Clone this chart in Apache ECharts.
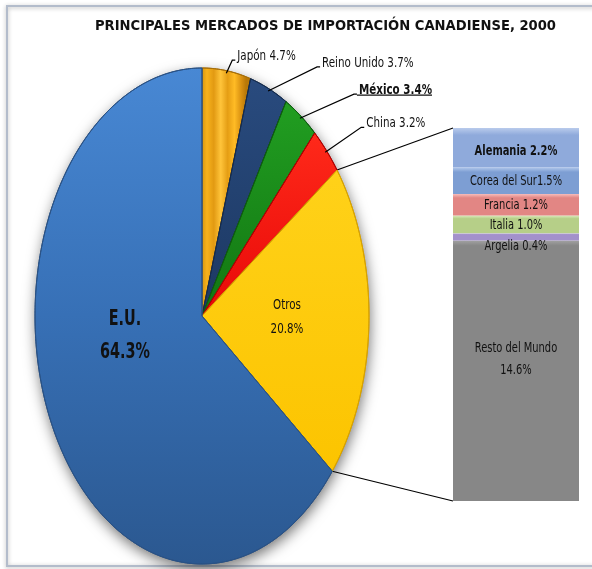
<!DOCTYPE html>
<html>
<head>
<meta charset="utf-8">
<script src="https://cdn.jsdelivr.net/npm/echarts@6.0.0/dist/echarts.min.js"></script>
<style>
  html, body { margin: 0; padding: 0; background: #fff; }
  #chart { width: 592px; height: 569px; }
</style>
</head>
<body>
<div id="chart"></div>
<script>
// pie: clockwise from 12 o'clock
const pieNames = ['Japón', 'Reino Unido', 'México', 'China', 'Otros', 'E.U.'];
const pieValues = [4.7, 3.7, 3.4, 3.2, 20.8, 64.3];
// bar of pie: bottom to top
const barNames = ['Resto del Mundo', 'Argelia', 'Italia', 'Francia', 'Corea del Sur', 'Alemania'];
const barValues = [14.6, 0.4, 1.0, 1.2, 1.5, 2.2];

const FONT = "'DejaVu Sans Condensed', 'Liberation Sans Narrow', sans-serif";
const CX = 202, CY = 316, RX = 167, RY = 248;   // stretched pie like the excel one
const GRID = { left: 453, top: 128, width: 126, height: 373 };
const TEXT_STRETCH = 1.3;   // the excel picture was stretched vertically, text too

var pieTotal = pieValues.reduce((a, b) => a + b, 0);
var barTotal = barValues.reduce((a, b) => a + b, 0);

// label layout (leader elbow offset from slice edge / inside label offset from centre)
var outsideOffsets = { 'Japón': [6, -13], 'Reino Unido': [49, -24], 'México': [54, -24], 'China': [36, -25] };
// [dx, dy, fontSize, lineHeight, weight, stretch]
var insideLabels = { 'Otros': [85, 1, 11.5, 18.5, 'normal', 1.3], 'E.U.': [-77, 20, 16, 24, 'bold', 1.35] };
var barLabelShift = { 'Resto del Mundo': -11, 'Argelia': 9, 'Alemania': 4 };

var sliceFills = [
  { type: 'linear', x: 200, y: 0, x2: 246, y2: 0, global: true, colorStops: [
    { offset: 0, color: '#c98a0c' }, { offset: 0.15, color: '#f7b21c' }, { offset: 0.3, color: '#e29a12' },
    { offset: 0.45, color: '#ffc43a' }, { offset: 0.6, color: '#e59e14' }, { offset: 0.75, color: '#ffbb25' },
    { offset: 0.9, color: '#d89010' }, { offset: 1, color: '#b87808' }] },
  { type: 'linear', x: 0, y: 60, x2: 0, y2: 320, global: true, colorStops: [
    { offset: 0, color: '#2a4c80' }, { offset: 1, color: '#1c3862' }] },
  { type: 'linear', x: 0, y: 90, x2: 0, y2: 320, global: true, colorStops: [
    { offset: 0, color: '#22a022' }, { offset: 1, color: '#127512' }] },
  { type: 'linear', x: 0, y: 130, x2: 0, y2: 320, global: true, colorStops: [
    { offset: 0, color: '#ff2a1a' }, { offset: 1, color: '#e80808' }] },
  { type: 'linear', x: 0, y: 160, x2: 0, y2: 470, global: true, colorStops: [
    { offset: 0, color: '#ffd21a' }, { offset: 1, color: '#fcc400' }] },
  { type: 'linear', x: 0, y: 67, x2: 0, y2: 563, global: true, colorStops: [
    { offset: 0, color: '#4888d4' }, { offset: 0.5, color: '#3770b6' }, { offset: 1, color: '#2b5890' }] }
];
var sliceEdges = ['#a86e06', '#142b4d', '#0e5e0e', '#b00000', '#d8a200', '#2a5285'];

var barColors = ['#878787', '#a391cb', '#b6cf88', '#e28684', '#7d9ed3', '#8faadb'];
var barLights = ['#a2a2a2', '#c9bde6', '#dbebbd', '#f6bcbb', '#b3c9ec', '#b9cbec'];

function ellipsePoint(a, k) {
  return [CX + RX * k * Math.sin(a), CY - RY * k * Math.cos(a)];
}

function ellipsePoly(a0, a1) {
  var pts = [];
  var n = Math.max(4, Math.ceil((a1 - a0) * 80));
  for (var s = 0; s <= n; s++) pts.push(ellipsePoint(a0 + (a1 - a0) * s / n, 1));
  return pts;
}

var measureCtx = document.createElement('canvas').getContext('2d');

function renderSlice(params, api) {
  var i = params.dataIndex;
  var start = 0;
  for (var j = 0; j < i; j++) start += pieValues[j];
  var v = api.value(0);
  var a0 = start / pieTotal * Math.PI * 2;
  var a1 = (start + v) / pieTotal * Math.PI * 2;
  var children = [];
  if (i === 0) {
    // drop shadow under the whole pie
    children.push({
      type: 'polygon', shape: { points: ellipsePoly(0, Math.PI * 2) },
      style: { fill: '#2b5890', shadowBlur: 14, shadowOffsetY: 5, shadowOffsetX: 1, shadowColor: 'rgba(0,0,0,0.55)' }
    });
  }
  children.push({
    type: 'polygon',
    shape: { points: [[CX, CY]].concat(ellipsePoly(a0, a1)) },
    style: { fill: sliceFills[i], stroke: sliceEdges[i], lineWidth: 1 }
  });

  var name = pieNames[i];
  if (outsideOffsets[name]) {
    var p = ellipsePoint((a0 + a1) / 2, 0.99);
    var off = outsideOffsets[name];
    var e = [p[0] + off[0], p[1] + off[1]];
    var bold = name === 'México';
    var font = (bold ? 'bold ' : '') + '11.5px ' + FONT;
    var text = name + ' ' + v.toFixed(1) + '%';
    children.push({
      type: 'polyline', shape: { points: [p, e, [e[0] + 3, e[1]]] },
      style: { stroke: '#000', lineWidth: 1.2, fill: 'none' }
    });
    children.push({
      type: 'text', x: e[0] + 5, y: e[1] - 4, scaleY: TEXT_STRETCH,
      style: { text: text, font: font, fill: '#111', align: 'left', verticalAlign: 'middle' }
    });
    if (bold) {
      measureCtx.font = font;
      var w = measureCtx.measureText(text).width;
      children.push({
        type: 'line', shape: { x1: e[0] + 3, y1: e[1] + 1, x2: e[0] + 5 + w, y2: e[1] + 1 },
        style: { stroke: '#111', lineWidth: 1.3 }
      });
    }
  }
  if (insideLabels[name]) {
    var L = insideLabels[name];
    children.push({
      type: 'text', x: CX + L[0], y: CY + L[1], scaleY: L[5],
      style: {
        text: name + '\n' + v.toFixed(1) + '%', font: L[4] + ' ' + L[2] + 'px ' + FONT,
        lineHeight: L[3], fill: '#111', align: 'center', verticalAlign: 'middle'
      }
    });
  }
  return { type: 'group', children: children };
}

var barSeries = barNames.map(function (name, i) {
  var bottom = i === 0;
  return {
    name: name,
    type: 'bar',
    stack: 'resto',
    barWidth: '100%',
    data: [barValues[i]],
    itemStyle: {
      color: {
        type: 'linear', x: 0, y: 0, x2: 0, y2: 1,
        colorStops: [
          { offset: 0, color: barLights[i] },
          { offset: bottom ? 0.02 : 0.18, color: barColors[i] },
          { offset: 1, color: barColors[i] }
        ]
      },
      shadowBlur: bottom ? 6 : 0,
      shadowOffsetX: bottom ? 2 : 0,
      shadowOffsetY: bottom ? 3 : 0,
      shadowColor: 'rgba(0,0,0,0.4)'
    }
  };
});

var chartDom = document.getElementById('chart');
var myChart = echarts.init(chartDom);

var option = {
  animation: false,
  backgroundColor: '#fff',
  title: {
    text: 'PRINCIPALES MERCADOS DE IMPORTACIÓN CANADIENSE, 2000',
    left: 95,
    top: 19,
    padding: 0,
    textStyle: { fontFamily: FONT, fontSize: 14.6, fontWeight: 'bold', color: '#111' }
  },
  grid: GRID,
  xAxis: { type: 'category', data: ['Otros'], show: false },
  yAxis: { type: 'value', min: 0, max: barTotal, show: false },
  series: [
    {
      type: 'custom',
      coordinateSystem: 'none',
      renderItem: renderSlice,
      data: pieValues.map(function (v, i) { return { name: pieNames[i], value: v }; }),
      silent: true
    }
  ].concat(barSeries)
};
option && myChart.setOption(option);

// connector lines from the "Otros" slice to the stacked bar
var otrosIdx = pieNames.indexOf('Otros');
var before = 0;
for (var k = 0; k < otrosIdx; k++) before += pieValues[k];
var pA = ellipsePoint(before / pieTotal * Math.PI * 2, 1);
var pB = ellipsePoint((before + pieValues[otrosIdx]) / pieTotal * Math.PI * 2, 1);
var barTop = myChart.convertToPixel({ yAxisIndex: 0 }, barTotal);
var barBottom = myChart.convertToPixel({ yAxisIndex: 0 }, 0);
var barMid = myChart.convertToPixel({ xAxisIndex: 0 }, 'Otros');
var barLeft = barMid - GRID.width / 2;

var graphics = [
  { type: 'rect', z: -10, silent: true, shape: { x: 7, y: 6, width: 620, height: 560 },
    style: { fill: 'none', stroke: '#b3bccb', lineWidth: 2, shadowBlur: 4, shadowColor: 'rgba(0,0,0,0.3)', shadowOffsetY: 1 } },
  { type: 'line', silent: true, shape: { x1: pA[0], y1: pA[1], x2: barLeft, y2: barTop },
    style: { stroke: '#000', lineWidth: 1.2 } },
  { type: 'line', silent: true, shape: { x1: pB[0], y1: pB[1], x2: barLeft, y2: barBottom },
    style: { stroke: '#000', lineWidth: 1.2 } }
];

// bar segment labels, stretched like the rest of the text
var cum = 0;
barNames.forEach(function (name, i) {
  var v = barValues[i];
  var yMid = myChart.convertToPixel({ yAxisIndex: 0 }, cum + v / 2);
  cum += v;
  var val = v.toFixed(1) + '%';
  var txt = name + ' ' + val;
  if (name === 'Resto del Mundo') txt = name + '\n' + val;
  if (name === 'Corea del Sur') txt = name + val;
  graphics.push({
    type: 'text', silent: true, z: 100,
    x: barMid, y: yMid + (barLabelShift[name] || 1), scaleY: TEXT_STRETCH,
    style: {
      text: txt, fill: '#111', align: 'center', verticalAlign: 'middle', lineHeight: 17,
      font: (name === 'Alemania' ? 'bold ' : '') + '11px ' + FONT
    }
  });
});

myChart.setOption({ graphic: graphics });
</script>
</body>
</html>
